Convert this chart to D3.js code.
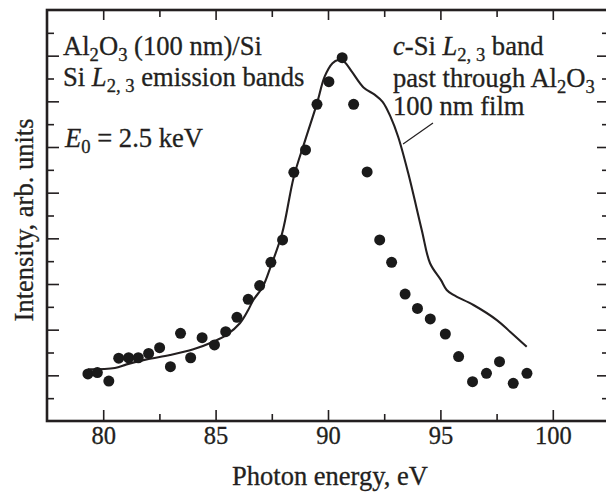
<!DOCTYPE html>
<html>
<head>
<meta charset="utf-8">
<script src="https://cdn.jsdelivr.net/npm/d3@7"></script>
<style>
  html, body { margin: 0; padding: 0; background: #fff; }
  svg text { font-family: "Liberation Serif", "Times New Roman", serif; fill: #231f20; stroke: #231f20; stroke-width: 0.3px; }
</style>
</head>
<body>
<svg id="chart" width="606" height="494"></svg>
<script>
// ---- data ----
const pointEnergy = [79.32, 79.74, 80.25, 80.69, 81.13, 81.56, 82.02, 82.51, 82.99, 83.44,
  83.89, 84.40, 84.95, 85.45, 85.95, 86.45, 86.96, 87.46, 87.98, 88.48,
  89.00, 89.51, 90.04, 90.63, 91.14, 91.74, 92.30, 92.83, 93.43, 93.98,
  94.55, 95.22, 95.81, 96.43, 97.05, 97.63, 98.24, 98.85];
const pointIntensity = [2.06, 2.12, 1.75, 2.75, 2.77, 2.77, 2.96, 3.21, 2.38, 3.84,
  2.77, 3.65, 3.33, 3.91, 4.54, 5.33, 5.93, 6.95, 7.93, 10.89,
  11.87, 13.87, 14.86, 15.91, 13.87, 10.91, 7.93, 6.95, 5.56, 4.93,
  4.47, 3.81, 2.82, 1.72, 2.09, 2.60, 1.65, 2.09];

const curveEnergy = [79.32, 80.52, 81.04, 81.93, 82.97, 84.01, 84.90, 85.49, 86.08, 86.45,
  86.68, 87.10, 87.45, 87.96, 88.48, 88.99, 89.51, 89.85, 90.20, 90.45,
  90.71, 91.06, 91.58, 92.09, 92.43, 92.78, 93.12, 93.57, 94.17, 94.54,
  95.02, 95.28, 95.58, 96.47, 97.51, 98.10, 98.84];
const curveIntensity = [2.26, 2.32, 2.48, 2.70, 2.89, 3.14, 3.47, 3.77, 4.28, 4.86,
  5.30, 5.88, 6.76, 8.22, 10.70, 12.31, 13.91, 15.08, 15.67, 15.81,
  15.74, 15.30, 14.61, 14.28, 13.98, 13.33, 12.45, 10.85, 8.37, 6.91,
  6.18, 5.74, 5.52, 5.08, 4.42, 3.91, 3.25];

const leaderEnergy = [93.34, 94.67];
const leaderIntensity = [12.13, 13.05];

const xMajorTicks = [80, 85, 90, 95, 100];
const xMinorTicks = [82.5, 87.5, 92.5, 97.5];
const yMajorTicks = [2, 4, 6, 8, 10, 12, 14, 16];
const yMinorTicks = [1, 3, 5, 7, 9, 11, 13, 15, 17];
const xDomain = [77.5, 102.5];
const yDomain = [0, 18];

// ---- layout ----
const svg = d3.select("#chart");
const mLeft = 47, mRight = 609, mTop = 10, mBottom = 421;
const ink = "#231f20";

const x = d3.scaleLinear().domain(xDomain).range([mLeft, mRight]);
const y = d3.scaleLinear().domain(yDomain).range([mBottom, mTop]);

function styleAxis(g) {
  g.select(".domain").remove();
  g.selectAll(".tick line").attr("stroke", ink).attr("stroke-width", 1.6);
}

// bottom axis (major with labels, minor without)
svg.append("g").attr("transform", `translate(0,${mBottom})`)
  .call(d3.axisBottom(x).tickValues(xMajorTicks).tickSize(-11).tickPadding(6).tickFormat(d3.format("d")))
  .call(styleAxis)
  .call(g => g.selectAll("text").attr("font-size", 24.5).attr("fill", ink)
      .attr("font-family", "Liberation Serif, Times New Roman, serif"));
svg.append("g").attr("transform", `translate(0,${mBottom})`)
  .call(d3.axisBottom(x).tickValues(xMinorTicks).tickSize(-7).tickFormat(""))
  .call(styleAxis);
// top axis
svg.append("g").attr("transform", `translate(0,${mTop})`)
  .call(d3.axisTop(x).tickValues(xMajorTicks).tickSize(-10).tickFormat(""))
  .call(styleAxis);
svg.append("g").attr("transform", `translate(0,${mTop})`)
  .call(d3.axisTop(x).tickValues(xMinorTicks).tickSize(-7).tickFormat(""))
  .call(styleAxis);
// left axis
svg.append("g").attr("transform", `translate(${mLeft},0)`)
  .call(d3.axisLeft(y).tickValues(yMajorTicks).tickSize(-12).tickFormat(""))
  .call(styleAxis);
svg.append("g").attr("transform", `translate(${mLeft},0)`)
  .call(d3.axisLeft(y).tickValues(yMinorTicks).tickSize(-7).tickFormat(""))
  .call(styleAxis);
// right axis
svg.append("g").attr("transform", `translate(${mRight},0)`)
  .call(d3.axisRight(y).tickValues(yMajorTicks).tickSize(-12).tickFormat(""))
  .call(styleAxis);
svg.append("g").attr("transform", `translate(${mRight},0)`)
  .call(d3.axisRight(y).tickValues(yMinorTicks).tickSize(-7).tickFormat(""))
  .call(styleAxis);

// frame
svg.append("rect").attr("x", mLeft).attr("y", mTop)
  .attr("width", mRight - mLeft).attr("height", mBottom - mTop)
  .attr("fill", "none").attr("stroke", ink).attr("stroke-width", 2.6);

// curve
const curveData = curveEnergy.map((e, i) => ({ e, v: curveIntensity[i] }));
svg.append("path").datum(curveData)
  .attr("fill", "none").attr("stroke", ink).attr("stroke-width", 2.1)
  .attr("stroke-linejoin", "round")
  .attr("d", d3.line().x(d => x(d.e)).y(d => y(d.v)).curve(d3.curveCatmullRom.alpha(0.5)));

// leader line
svg.append("line")
  .attr("x1", x(leaderEnergy[0])).attr("y1", y(leaderIntensity[0]))
  .attr("x2", x(leaderEnergy[1])).attr("y2", y(leaderIntensity[1]))
  .attr("stroke", ink).attr("stroke-width", 1.2);

// points
const pts = pointEnergy.map((e, i) => ({ e, v: pointIntensity[i] }));
svg.append("g").selectAll("circle").data(pts).join("circle")
  .attr("cx", d => x(d.e)).attr("cy", d => y(d.v)).attr("r", 5.5)
  .attr("fill", "#1a1a1a");

// ---- text ----
const fs = 26.6;
function rich(xp, yp, parts, size) {
  const t = svg.append("text").attr("x", xp).attr("y", yp).attr("font-size", size);
  let shift = 0;
  parts.forEach(p => {
    const sub = p.sub || false;
    const target = sub ? 6 : 0;
    const ts = t.append("tspan").text(p.t)
      .attr("dy", target - shift)
      .attr("font-size", sub ? size * 0.7 : size);
    if (p.i) ts.attr("font-style", "italic");
    shift = target;
  });
  return t;
}

rich(63, 55, [{t: "Al"}, {t: "2", sub: true}, {t: "O"}, {t: "3", sub: true}, {t: " (100 nm)/Si"}], fs);
rich(63, 86, [{t: "Si "}, {t: "L", i: true}, {t: "2, 3", sub: true}, {t: " emission bands"}], fs);
rich(65, 147, [{t: "E", i: true}, {t: "0", sub: true}, {t: " = 2.5 keV"}], fs);

rich(393, 55, [{t: "c", i: true}, {t: "-Si "}, {t: "L", i: true}, {t: "2, 3", sub: true}, {t: " band"}], fs);
rich(393, 87, [{t: "past through Al"}, {t: "2", sub: true}, {t: "O"}, {t: "3", sub: true}], fs);
rich(393, 115, [{t: "100 nm film"}], fs);

// axis titles
svg.append("text").attr("x", 330).attr("y", 485).attr("text-anchor", "middle")
  .attr("font-size", 26.5).text("Photon energy, eV");
svg.append("text").attr("transform", "translate(33,220) rotate(-90)")
  .attr("text-anchor", "middle").attr("font-size", 26.5).text("Intensity, arb. units");
</script>
</body>
</html>
